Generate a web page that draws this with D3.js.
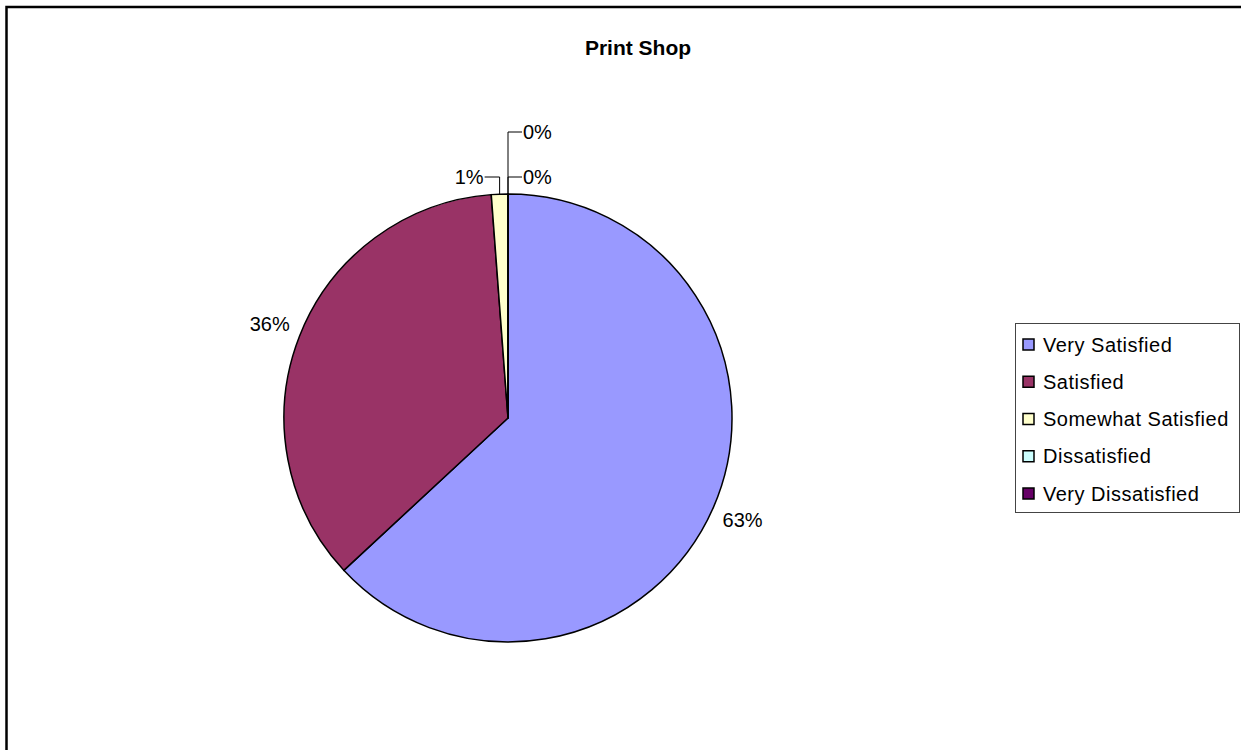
<!DOCTYPE html>
<html>
<head>
<meta charset="utf-8">
<script src="https://cdn.jsdelivr.net/npm/d3@7"></script>
<style>
  html, body { margin: 0; padding: 0; background: #fff; }
  svg { display: block; font-family: "Liberation Sans", Arial, sans-serif; }
</style>
</head>
<body>
<svg id="chart" width="1241" height="750"></svg>
<script>
// ---- data ----
const categories = ["Very Satisfied", "Satisfied", "Somewhat Satisfied", "Dissatisfied", "Very Dissatisfied"];
const values = [53, 30, 1, 0, 0];
const colors = ["#9999FF", "#993366", "#FFFFCC", "#CCFFFF", "#660066"];
const title = "Print Shop";

// ---- layout ----
const svg = d3.select("#chart");
const W = 1241, H = 750;
const cx = 508, cy = 418, R = 224;

// frame (top and left edges)
svg.append("path")
  .attr("d", `M6.5,${H} L6.5,7 L${W},7`)
  .attr("fill", "none").attr("stroke", "#000").attr("stroke-width", 2.5);

// title
svg.append("text")
  .attr("x", 638).attr("y", 55)
  .attr("text-anchor", "middle")
  .attr("font-size", 21).attr("font-weight", "bold")
  .text(title);

const total = d3.sum(values);
const pie = d3.pie().sort(null).startAngle(0).endAngle(2 * Math.PI);
const arcs = pie(values);
const arc = d3.arc().innerRadius(0).outerRadius(R);

const g = svg.append("g").attr("transform", `translate(${cx},${cy})`);
g.selectAll("path.slice")
  .data(arcs)
  .join("path")
  .attr("class", "slice")
  .attr("d", arc)
  .attr("fill", (d, i) => colors[i])
  .attr("stroke", "#000")
  .attr("stroke-width", 1.5)
  .attr("stroke-linejoin", "round");

const pct = v => Math.round(v / total * 100) + "%";
const fontSize = 20;

// labels
let rightStack = 0, leftStack = 0;
arcs.forEach((d, i) => {
  const frac = d.value / total;
  const mid = (d.startAngle + d.endAngle) / 2;
  const sx = Math.sin(mid), sy = -Math.cos(mid);
  if (frac >= 0.05) {
    const lr = R + 32;
    g.append("text")
      .attr("x", sx * lr).attr("y", sy * lr)
      .attr("text-anchor", "middle")
      .attr("dominant-baseline", "central")
      .attr("font-size", fontSize)
      .text(pct(d.value));
  } else {
    // leader-line labels for tiny slices
    const px = sx * R, py = sy * R;
    const onRight = (d.value === 0) || sx > 0.0001;
    let ly;
    if (onRight) { ly = -R - 17 - rightStack * 45; rightStack++; }
    else { ly = -R - 17 - leftStack * 45; leftStack++; }
    const hx = onRight ? px + 14 : px - 15;
    g.append("path")
      .attr("d", `M${px},${py} L${px},${ly} L${hx},${ly}`)
      .attr("fill", "none").attr("stroke", "#000").attr("stroke-width", 1);
    g.append("text")
      .attr("x", onRight ? hx + 1 : hx - 1).attr("y", ly)
      .attr("text-anchor", onRight ? "start" : "end")
      .attr("dominant-baseline", "central")
      .attr("font-size", fontSize)
      .text(pct(d.value));
  }
});

// legend
const lx = 1015, ly0 = 323, lw = 224, lh = 189;
const legend = svg.append("g");
legend.append("rect")
  .attr("x", lx + 0.5).attr("y", ly0 + 0.5)
  .attr("width", lw).attr("height", lh)
  .attr("fill", "#fff").attr("stroke", "#444").attr("stroke-width", 1);
const rowY = d3.scalePoint().domain(categories).range([344.5, 493.5]);
categories.forEach((c, i) => {
  const y = rowY(c);
  legend.append("rect")
    .attr("x", 1023).attr("y", y - 5.5)
    .attr("width", 11).attr("height", 11)
    .attr("fill", colors[i]).attr("stroke", "#000").attr("stroke-width", 1.5);
  legend.append("text")
    .attr("x", 1043).attr("y", y + 7)
    .attr("font-size", fontSize)
    .attr("letter-spacing", 0.5)
    .text(c);
});
</script>
</body>
</html>
